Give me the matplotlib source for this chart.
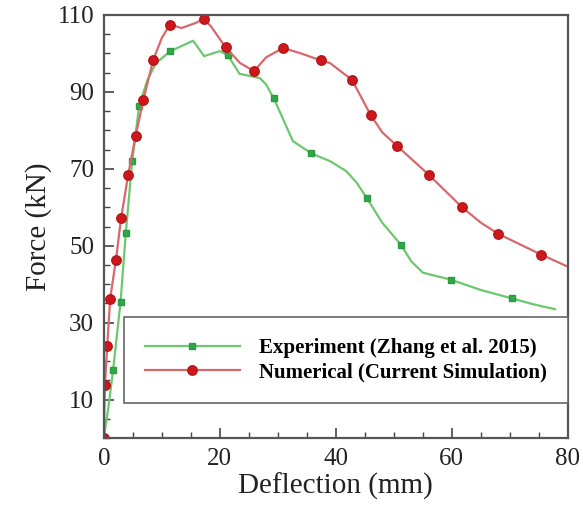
import matplotlib.pyplot as plt
from matplotlib.ticker import MultipleLocator

plt.rcParams['font.family'] = ['Liberation Serif', 'DejaVu Serif']

# Experiment (Zhang et al. 2015)
exp_x = [0, 0.8, 1.6, 2.9, 3.8, 4.9, 6.1, 7.5, 9, 11.5, 13.5, 15.4, 17.3, 20, 21.4,
         23.4, 26.9, 28, 29.3, 30.3, 32.6, 35.8, 39, 41.8, 43.6, 45.3, 48, 51.2,
         53, 55, 59.8, 65, 70.4, 74, 77.8]
exp_y = [0, 8, 17.6, 35.5, 53.4, 72, 86.4, 93, 97.5, 100.6, 102, 103.3, 99.3, 100.6, 99.5,
         94.7, 93.6, 91.9, 88.3, 85, 77.2, 74, 72, 69.4, 66.4, 62.5, 56, 50.3,
         46, 43, 41.2, 38.5, 36.3, 34.8, 33.5]
exp_marks = [2, 3, 4, 5, 6, 9, 14, 18, 21, 25, 27, 30, 32]

# Numerical (Current Simulation)
num_x = [0, 0.2, 0.6, 1.1, 2.1, 3.0, 4.2, 5.5, 6.8, 8.5, 10, 11.4, 13.4, 16, 17.2,
         18.5, 21.0, 23.5, 25.9, 28, 30.9, 33.8, 37.4, 39, 42.8, 46.0, 48, 50.6,
         56.0, 61.7, 65, 68.0, 75.4, 79.8]
num_y = [0, 13.8, 24, 36.2, 46.4, 57.3, 68.4, 78.6, 87.8, 98.2, 104, 107.5, 106.6, 108, 109,
         107, 101.6, 97.5, 95.4, 99, 101.4, 100.1, 98.2, 97.5, 93.1, 84, 79.5, 75.9,
         68.5, 60.1, 56, 53.1, 47.7, 44.7]
num_marks = [0, 1, 2, 3, 4, 5, 6, 7, 8, 9, 11, 14, 16, 18, 20, 22, 24, 25, 27, 28, 29, 31, 32]

fig = plt.figure(figsize=(5.83, 5.16), dpi=100)
ax = fig.add_axes([0.178, 0.151, 0.796, 0.820])

ax.plot(exp_x, exp_y, color='#6cc86c', lw=1.6, marker='s', ms=4.8,
        mfc='#2ea84a', mec='#2e9a40', markevery=exp_marks,
        label='Experiment (Zhang et al. 2015)')
ax.plot(num_x, num_y, color='#d8686a', lw=1.6, marker='o', ms=6.8,
        mfc='#d0161c', mec='#b01818', markevery=num_marks,
        label='Numerical (Current Simulation)')

ax.set_xlim(0, 80)
ax.set_ylim(0, 110)
ax.xaxis.set_major_locator(MultipleLocator(20))
ax.xaxis.set_minor_locator(MultipleLocator(5))
ax.yaxis.set_minor_locator(MultipleLocator(5))
ax.set_yticks([10, 30, 50, 70, 90, 110])
ax.tick_params(which='both', direction='in', colors='#444444', labelcolor='#222222',
               labelsize=18, top=False, right=False)
ax.tick_params(which='major', length=7, width=1.2, pad=7)
ax.tick_params(which='minor', length=4, width=1)
for s in ax.spines.values():
    s.set_color('#555555')
    s.set_linewidth(1.6)

ax.set_xlabel('Deflection (mm)', fontsize=21, color='#222222', labelpad=2)
ax.set_ylabel('Force (kN)', fontsize=21, color='#222222', labelpad=4)

leg = ax.legend(loc='lower right', bbox_to_anchor=(1.0, 0.083), handlelength=4.6,
                prop={'weight': 'bold', 'size': 15}, fancybox=False,
                framealpha=1, edgecolor='#666666', borderpad=1.0, labelspacing=0.2,
                handletextpad=0.9, borderaxespad=0)
leg.get_frame().set_linewidth(1.2)

fig.savefig('out.png', dpi=100)
